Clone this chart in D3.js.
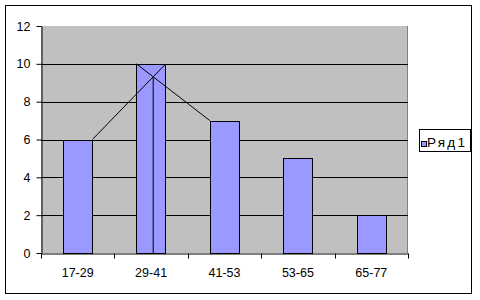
<!DOCTYPE html>
<html lang="ru">
<head>
    <meta charset="UTF-8">
    <script src="https://d3js.org/d3.v7.min.js"></script>
    <title>Ряд1</title>
    <style>
        body { margin: 0; background: white; }
        text { font-family: "Liberation Sans", Arial, sans-serif; font-size: 12px; fill: black; }
    </style>
</head>
<body>
<script>
    // data
    var categories = ["17-29", "29-41", "41-53", "53-65", "65-77"];
    var values = [6, 10, 7, 5, 2];
    var yTicks = [0, 2, 4, 6, 8, 10, 12];
    var seriesName = "Ряд1";

    var canvasWidth = 480, canvasHeight = 300;
    var plot = {left: 41, top: 26, right: 408, bottom: 253};
    var width = plot.right - plot.left;
    var height = plot.bottom - plot.top;

    var svg = d3.select("body").append("svg")
        .attr("width", canvasWidth)
        .attr("height", canvasHeight);

    // outer chart border
    svg.append("rect")
        .attr("x", 5.5).attr("y", 5.5)
        .attr("width", 466).attr("height", 288)
        .attr("fill", "white").attr("stroke", "black");

    var g = svg.append("g")
        .attr("transform", "translate(" + plot.left + "," + plot.top + ")");

    var xScale = d3.scaleBand().domain(categories).range([0, width]).padding(0);
    var yScale = d3.scaleLinear().domain([0, 12]).range([height, 0]);

    // plot area
    g.append("rect")
        .attr("x", 0).attr("y", 0)
        .attr("width", width).attr("height", height)
        .attr("fill", "#c0c0c0");
    g.append("line")
        .attr("x1", width - 0.5).attr("x2", width - 0.5)
        .attr("y1", 0).attr("y2", height)
        .attr("stroke", "#808080");

    // gridlines (not at 0 or top)
    g.selectAll(".grid").data(yTicks.filter(function(d) { return d > 0 && d < 12; }))
        .enter().append("line").attr("class", "grid")
        .attr("x1", 0).attr("x2", width)
        .attr("y1", function(d) { return Math.round(yScale(d)) + 0.5; })
        .attr("y2", function(d) { return Math.round(yScale(d)) + 0.5; })
        .attr("stroke", "black");

    // bars: Excel style gap width 150%
    var bw = xScale.bandwidth() * 0.4;
    function barLeft(i) { return xScale(categories[i]) + (xScale.bandwidth() - bw) / 2; }

    g.selectAll(".bar").data(values).enter().append("rect").attr("class", "bar")
        .attr("x", function(d, i) { return Math.round(barLeft(i)) + 0.5; })
        .attr("y", function(d) { return Math.round(yScale(d)) + 0.5; })
        .attr("width", Math.round(bw))
        .attr("height", function(d) { return Math.round(yScale(0)) - Math.round(yScale(d)); })
        .attr("fill", "#9999ff")
        .attr("stroke", "black");

    // mode construction lines
    var m = values.indexOf(d3.max(values));
    var a1 = [barLeft(m - 1) + bw, yScale(values[m - 1])];
    var a2 = [barLeft(m) + bw, yScale(values[m])];
    var b1 = [barLeft(m), yScale(values[m])];
    var b2 = [barLeft(m + 1), yScale(values[m + 1])];
    var sa = (a2[1] - a1[1]) / (a2[0] - a1[0]);
    var sb = (b2[1] - b1[1]) / (b2[0] - b1[0]);
    var ix = (b1[1] - a1[1] + sa * a1[0] - sb * b1[0]) / (sa - sb);
    var iy = a1[1] + sa * (ix - a1[0]);

    var lines = [[a1, a2], [b1, b2], [[ix, iy], [ix, yScale(0)]]];
    g.selectAll(".mode").data(lines).enter().append("line").attr("class", "mode")
        .attr("x1", function(d) { return d[0][0]; })
        .attr("y1", function(d) { return d[0][1]; })
        .attr("x2", function(d) { return d[1][0]; })
        .attr("y2", function(d) { return d[1][1]; })
        .attr("stroke", "black").attr("stroke-width", 1);

    // y axis
    var yAxis = g.append("g")
        .attr("transform", "translate(0.5,0)")
        .call(d3.axisLeft(yScale).tickValues(yTicks).tickSize(5).tickSizeOuter(0).tickPadding(6));
    yAxis.selectAll("path, line").attr("stroke", "black");
    yAxis.selectAll("text").style("font-size", "12.5px").attr("font-family", null);

    // x axis: labels under categories, ticks at boundaries
    var xAxis = g.append("g")
        .attr("transform", "translate(0," + (height + 0.5) + ")")
        .call(d3.axisBottom(xScale).tickSize(0).tickSizeOuter(0).tickPadding(15));
    xAxis.select(".domain").attr("stroke", "black");
    xAxis.selectAll("text").style("font-size", "12.5px").attr("font-family", null);

    var bounds = categories.map(function(c) { return xScale(c); }).concat([width]);
    xAxis.selectAll(".btick").data(bounds).enter().append("line").attr("class", "btick")
        .attr("x1", function(d) { return Math.round(d) + 0.5; })
        .attr("x2", function(d) { return Math.round(d) + 0.5; })
        .attr("y1", 0).attr("y2", 5)
        .attr("stroke", "black");

    // legend
    var legend = svg.append("g").attr("transform", "translate(419,129)");
    legend.append("rect")
        .attr("x", 0.5).attr("y", 0.5)
        .attr("width", 51).attr("height", 22)
        .attr("fill", "white").attr("stroke", "black");
    legend.append("rect")
        .attr("x", 2.5).attr("y", 12.5)
        .attr("width", 5).attr("height", 5)
        .attr("fill", "#9999ff").attr("stroke", "black");
    legend.append("text")
        .attr("x", 8).attr("y", 18)
        .attr("textLength", 38)
        .style("font-size", "13.5px")
        .text(seriesName);
</script>
</body>
</html>
